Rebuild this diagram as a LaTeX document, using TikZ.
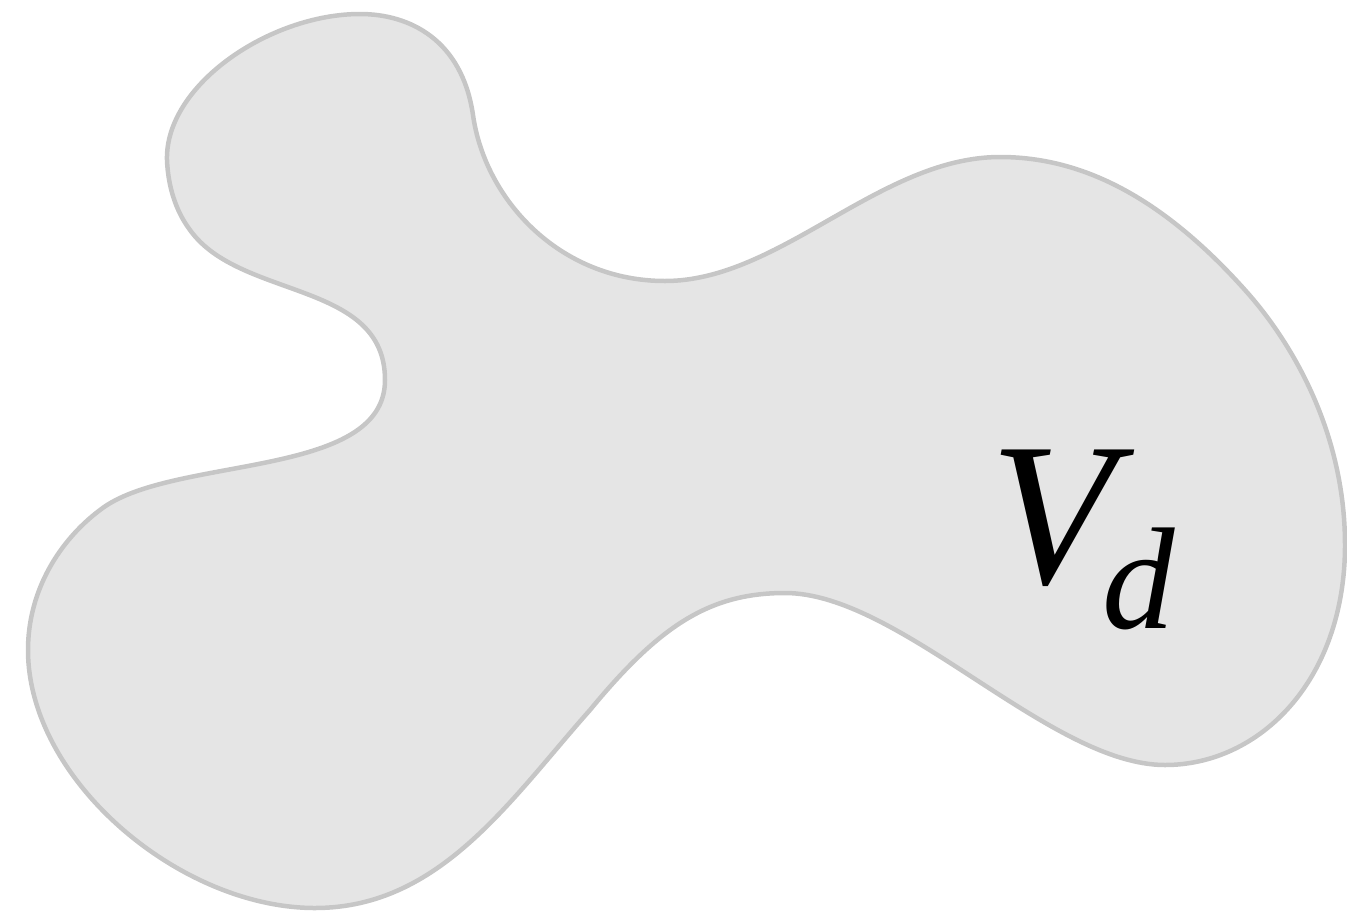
\documentclass[tikz,border=0pt]{standalone}
\usepackage{fontspec}
\setmainfont{Liberation Serif}
\definecolor{blobfill}{HTML}{E5E5E5}
\definecolor{blobline}{HTML}{C6C6C6}
\tikzset{blob/.style={fill=blobfill,draw=blobline,line width=4.5pt},
  lbl/.style={inner sep=0pt,anchor=base west}}
\begin{document}
\begin{tikzpicture}[x=1pt,y=-1pt]
\useasboundingbox (0,0) rectangle (1347,914);
\draw[blob] (473,115) .. controls (462,40) and (410,14) .. (360,14)
 .. controls (270,14) and (165,85) .. (167,160)
 .. controls (168,185) and (175,210) .. (190,230)
 .. controls (240,300) and (385,280) .. (385,380)
 .. controls (385,480) and (170,455) .. (100,510)
 .. controls (60,540) and (28,590) .. (28,650)
 .. controls (28,780) and (180,908) .. (315,908)
 .. controls (440,908) and (510,800) .. (590,710)
 .. controls (660,625) and (710,593) .. (785,593)
 .. controls (900,593) and (1050,765) .. (1165,765)
 .. controls (1260,765) and (1345,680) .. (1345,545)
 .. controls (1345,430) and (1290,340) .. (1245,290)
 .. controls (1160,195) and (1080,157) .. (1000,157)
 .. controls (880,157) and (780,281) .. (665,281)
 .. controls (560,281) and (485,200) .. cycle;
\node[lbl,font=\fontsize{204}{204}\selectfont\itshape] (V) at (990,583) {V};
\node[lbl,font=\fontsize{145}{145}\selectfont\itshape] (d) at (1102,628) {d};
\end{tikzpicture}
\end{document}
